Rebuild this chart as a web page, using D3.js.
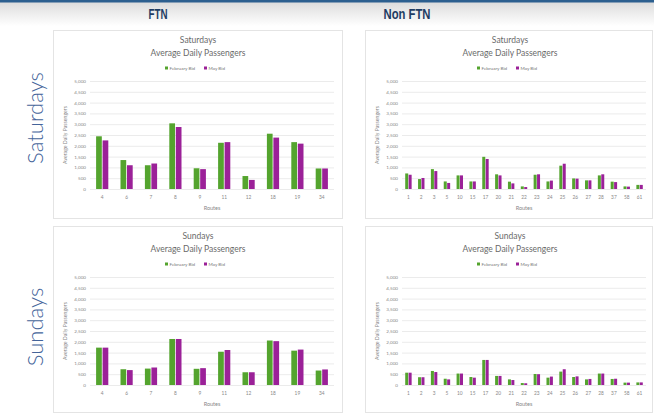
<!DOCTYPE html>
<html>
<head>
<meta charset="utf-8">
<script src="https://cdn.jsdelivr.net/npm/d3@7"></script>
<style>
  html, body { margin: 0; padding: 0; background: #fff; }
  svg { display: block; }
</style>
</head>
<body>
<div id="chart"></div>
<script>
// Data
const columnTitles = ["FTN", "Non FTN"];
const rowTitles = ["Saturdays", "Sundays"];
const seriesNames = ["February Bid", "May Bid"];
const yTicks = [0, 500, 1000, 1500, 2000, 2500, 3000, 3500, 4000, 4500, 5000];

const ftnRoutes = ["4", "6", "7", "8", "9", "11", "12", "18", "19", "34"];
const nonFtnRoutes = ["1", "2", "3", "5", "10", "15", "17", "20", "21", "22", "23", "24", "25", "26", "27", "28", "37", "58", "61"];

const ftnSatFeb = [2440, 1340, 1100, 3040, 960, 2140, 600, 2560, 2170, 950];
const ftnSatMay = [2250, 1100, 1180, 2870, 920, 2170, 420, 2380, 2100, 950];
const ftnSunFeb = [1730, 730, 760, 2130, 750, 1540, 590, 2060, 1590, 670];
const ftnSunMay = [1730, 690, 810, 2130, 780, 1620, 590, 2030, 1640, 720];

const nonSatFeb = [720, 460, 920, 350, 630, 350, 1490, 680, 340, 120, 660, 350, 1080, 490, 400, 630, 340, 120, 190];
const nonSatMay = [660, 510, 830, 280, 630, 350, 1390, 630, 260, 90, 680, 390, 1170, 480, 400, 680, 320, 110, 190];
const nonSunFeb = [570, 360, 650, 290, 530, 370, 1160, 420, 260, 90, 510, 340, 620, 370, 260, 530, 280, 110, 120];
const nonSunMay = [570, 360, 600, 260, 530, 340, 1160, 420, 230, 80, 500, 390, 730, 400, 280, 530, 290, 110, 120];

const colors = ["#54a42e", "#9b2198"];

const W = 654, H = 414;
const svg = d3.select("#chart").append("svg").attr("width", W).attr("height", H);

// header band
const defs = svg.append("defs");
const grad = defs.append("linearGradient").attr("id", "hdr").attr("x1", 0).attr("x2", 0).attr("y1", 0).attr("y2", 1);
grad.append("stop").attr("offset", "0%").attr("stop-color", "#dcdcdc");
grad.append("stop").attr("offset", "100%").attr("stop-color", "#ffffff");
svg.append("rect").attr("x", 0).attr("y", 2).attr("width", W).attr("height", 24).attr("fill", "url(#hdr)");
svg.append("rect").attr("x", 0).attr("y", 0).attr("width", W).attr("height", 2.5).attr("fill", "#2c5f8f");

const colCenters = [158, 407];
const colWidths = [19, 47];
svg.selectAll("text.col").data(columnTitles).enter().append("text")
    .attr("class", "col")
    .attr("x", (d, i) => colCenters[i] - colWidths[i] / 2).attr("y", 19)
    .attr("textLength", (d, i) => colWidths[i])
    .attr("lengthAdjust", "spacingAndGlyphs")
    .style("font-family", "'Liberation Sans', sans-serif")
    .style("font-weight", "bold").style("font-size", "14px")
    .attr("fill", "#1f3d64")
    .text(d => d);

const rowCenters = [118, 327];
svg.selectAll("text.row").data(rowTitles).enter().append("text")
    .attr("class", "row")
    .attr("transform", (d, i) => `translate(43,${rowCenters[i]}) rotate(-90)`)
    .attr("text-anchor", "middle")
    .style("font-family", "Lato, 'Open Sans', sans-serif")
    .style("font-weight", "300").style("font-size", "22px")
    .attr("fill", "#44649a")
    .text(d => d);

const panels = [
    { x: 53, y: 30, w: 289, h: 188, title: "Saturdays", routes: ftnRoutes, series: [ftnSatFeb, ftnSatMay] },
    { x: 365, y: 30, w: 287, h: 188, title: "Saturdays", routes: nonFtnRoutes, series: [nonSatFeb, nonSatMay] },
    { x: 53, y: 226, w: 289, h: 186, title: "Sundays", routes: ftnRoutes, series: [ftnSunFeb, ftnSunMay] },
    { x: 365, y: 226, w: 287, h: 186, title: "Sundays", routes: nonFtnRoutes, series: [nonSunFeb, nonSunMay] }
];

const fmt = d3.format(",");
const font = "Lato, 'Open Sans', sans-serif";

function drawPanel(p) {
    const g = svg.append("g").attr("transform", `translate(${p.x},${p.y})`)
        .style("font-family", font);

    g.append("rect").attr("x", 0.5).attr("y", 0.5).attr("width", p.w).attr("height", p.h)
        .attr("fill", "#fff").attr("stroke", "#e4e4e4");

    const cx = 145;
    g.append("text").attr("x", cx).attr("y", 13).attr("text-anchor", "middle")
        .style("font-size", "8.5px").attr("fill", "#6a6a6a").text(p.title);
    g.append("text").attr("x", cx).attr("y", 26).attr("text-anchor", "middle")
        .style("font-size", "8.5px").attr("fill", "#6a6a6a").text("Average Daily Passengers");

    // legend
    const leg = g.append("g").attr("transform", "translate(112,38)");
    const legX = [0, 39];
    seriesNames.forEach((s, i) => {
        leg.append("rect").attr("x", legX[i]).attr("y", -1.5).attr("width", 3).attr("height", 3).attr("fill", colors[i]);
        leg.append("text").attr("x", legX[i] + 4.5).attr("y", 1.7)
            .style("font-size", "4.6px").attr("fill", "#777").text(s);
    });

    const y = d3.scaleLinear().domain([0, 5000]).range([159, 51]);
    const x = d3.scaleBand().domain(p.routes).range([37, 281]).paddingInner(0.5).paddingOuter(0.25);
    const xs = d3.scaleBand().domain(d3.range(seriesNames.length)).range([0, x.bandwidth()]).paddingInner(0.12);

    // gridlines
    g.append("g").selectAll("line").data(yTicks).enter().append("line")
        .attr("x1", 37).attr("x2", 281)
        .attr("y1", d => y(d) + 0.5).attr("y2", d => y(d) + 0.5)
        .attr("stroke", "#e6e6e6").attr("stroke-width", 0.8);

    const yAxis = g.append("g").attr("transform", "translate(35,0)")
        .call(d3.axisLeft(y).tickValues(yTicks).tickFormat(fmt).tickSize(0).tickPadding(2));
    yAxis.select(".domain").remove();
    yAxis.selectAll("text").style("font-size", "4.6px").style("font-family", font).attr("fill", "#888");

    const xAxis = g.append("g").attr("transform", "translate(0,164)")
        .call(d3.axisBottom(x).tickSize(0).tickPadding(2));
    xAxis.select(".domain").remove();
    xAxis.selectAll("text").style("font-size", "4.8px").style("font-family", font).attr("fill", "#888");

    g.append("text").attr("x", 159).attr("y", 180).attr("text-anchor", "middle")
        .style("font-size", "5.5px").attr("fill", "#888").text("Routes");
    g.append("text").attr("transform", "translate(14,105) rotate(-90)").attr("text-anchor", "middle")
        .style("font-size", "5.2px").attr("fill", "#888").text("Average Daily Passengers");

    // bars
    p.series.forEach((vals, si) => {
        g.append("g").selectAll("rect").data(vals).enter().append("rect")
            .attr("x", (d, i) => x(p.routes[i]) + xs(si))
            .attr("y", d => y(d))
            .attr("width", xs.bandwidth())
            .attr("height", d => y(0) - y(d))
            .attr("fill", colors[si]);
    });
}

panels.forEach(drawPanel);
</script>
</body>
</html>
